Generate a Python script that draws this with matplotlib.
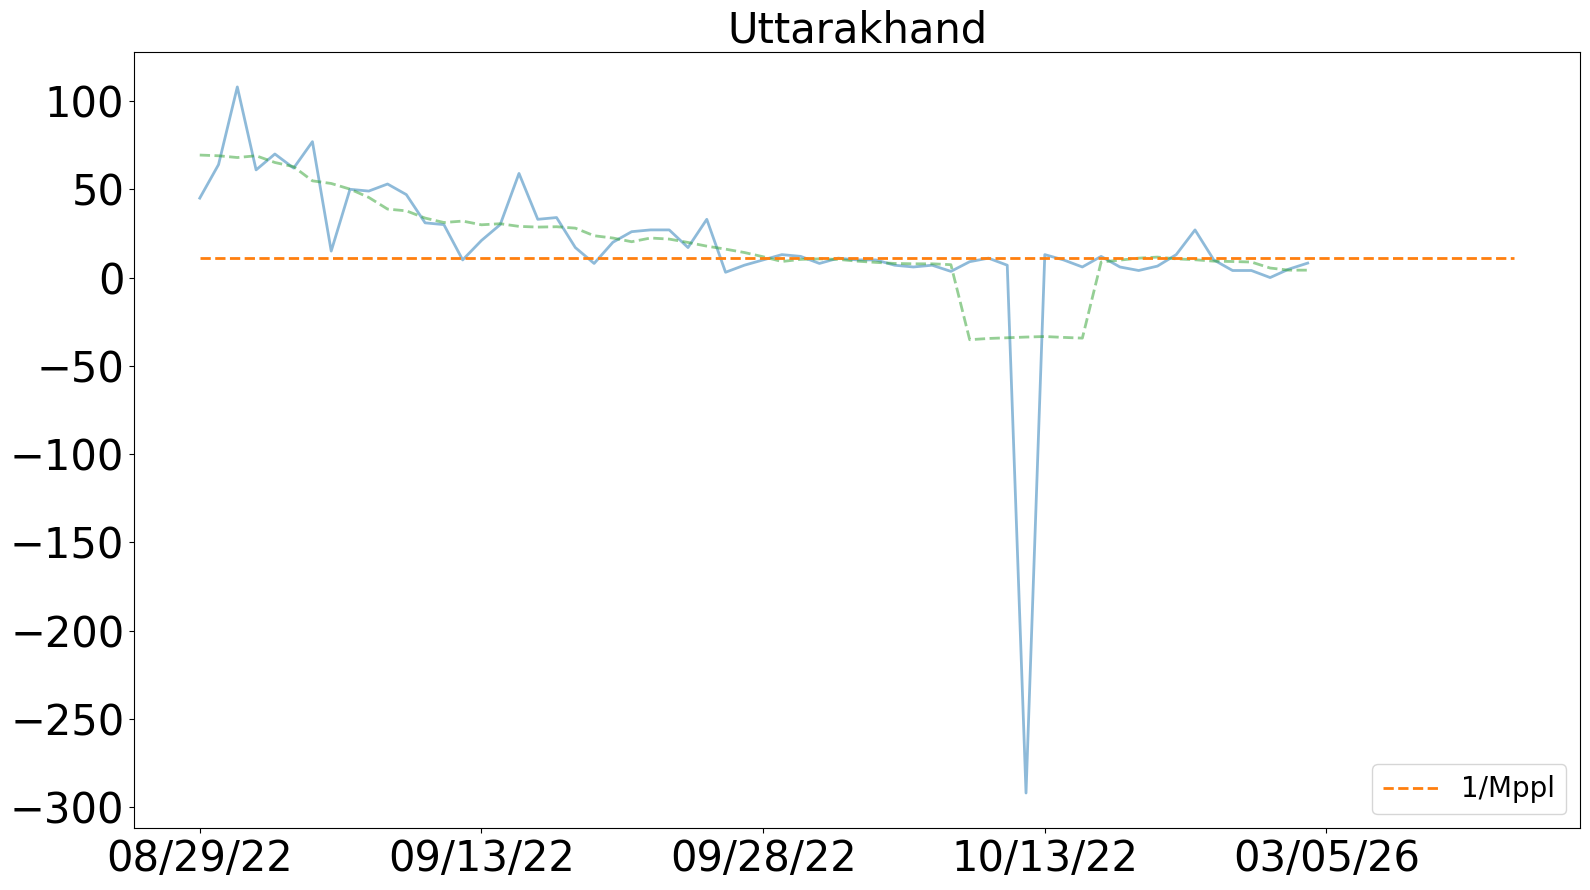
import matplotlib
matplotlib.use("Agg")
from matplotlib import pyplot as plt

# daily values
daily = [45, 64, 108, 61, 70, 62, 77, 15, 50, 49,
         53, 47, 31, 30, 10, 21, 30, 59, 33, 34,
         17, 8, 20, 26, 27, 27, 17, 33, 3, 7,
         10, 13, 12, 8, 11, 10, 10, 7, 6, 7,
         3.5, 9, 11, 7, -292, 13, 10, 6, 12, 6,
         4, 6.5, 13, 27, 10, 4, 4, 0, 4.8, 8.2]

# rolling average (green dashed)
rolling = [69.4, 69, 68, 69, 65.2, 62.8, 54.8, 53.3, 50.1, 45.4,
           38.8, 37.8, 33.7, 31.2, 32, 29.9, 30.5, 29, 28.6, 28.8,
           28, 23.7, 22.4, 20.3, 22.4, 21.8, 19.9, 17.8, 16.1, 14.2,
           11.8, 9.1, 10.3, 10.6, 10.3, 9.3, 8.6, 8, 7.8, 7.8,
           7.3, -35.2, -34.5, -34.1, -33.7, -33.4, -33.9, -34.3, 8.8, 9.9,
           11, 11.6, 10.6, 10.1, 9.3, 9.1, 8.8, 5.4, 4.2, 4.2]

threshold = 11.2
threshold_span = [0, 70]

tick_pos = [0, 15, 30, 45, 60]
tick_labels = ['08/29/22', '09/13/22', '09/28/22', '10/13/22', '03/05/26']

fig, ax = plt.subplots(figsize=(15.9, 8.9), dpi=100)
fig.subplots_adjust(left=0.0843, right=0.9937, top=0.942, bottom=0.0693)

ax.plot(range(len(daily)), daily, color='C0', alpha=0.5, linewidth=2)
ax.plot(range(len(rolling)), rolling, color='C2', alpha=0.5, linewidth=2, linestyle='--')
ax.plot(threshold_span, [threshold, threshold], color='C1', linewidth=2,
        linestyle='--', label='1/Mppl')

ax.set_xticks(tick_pos)
ax.set_xticklabels(tick_labels)
ax.tick_params(axis='both', labelsize=30)
ax.set_title('Uttarakhand', fontsize=30)
ax.legend(loc='lower right', fontsize=20)

plt.savefig("out.png")
